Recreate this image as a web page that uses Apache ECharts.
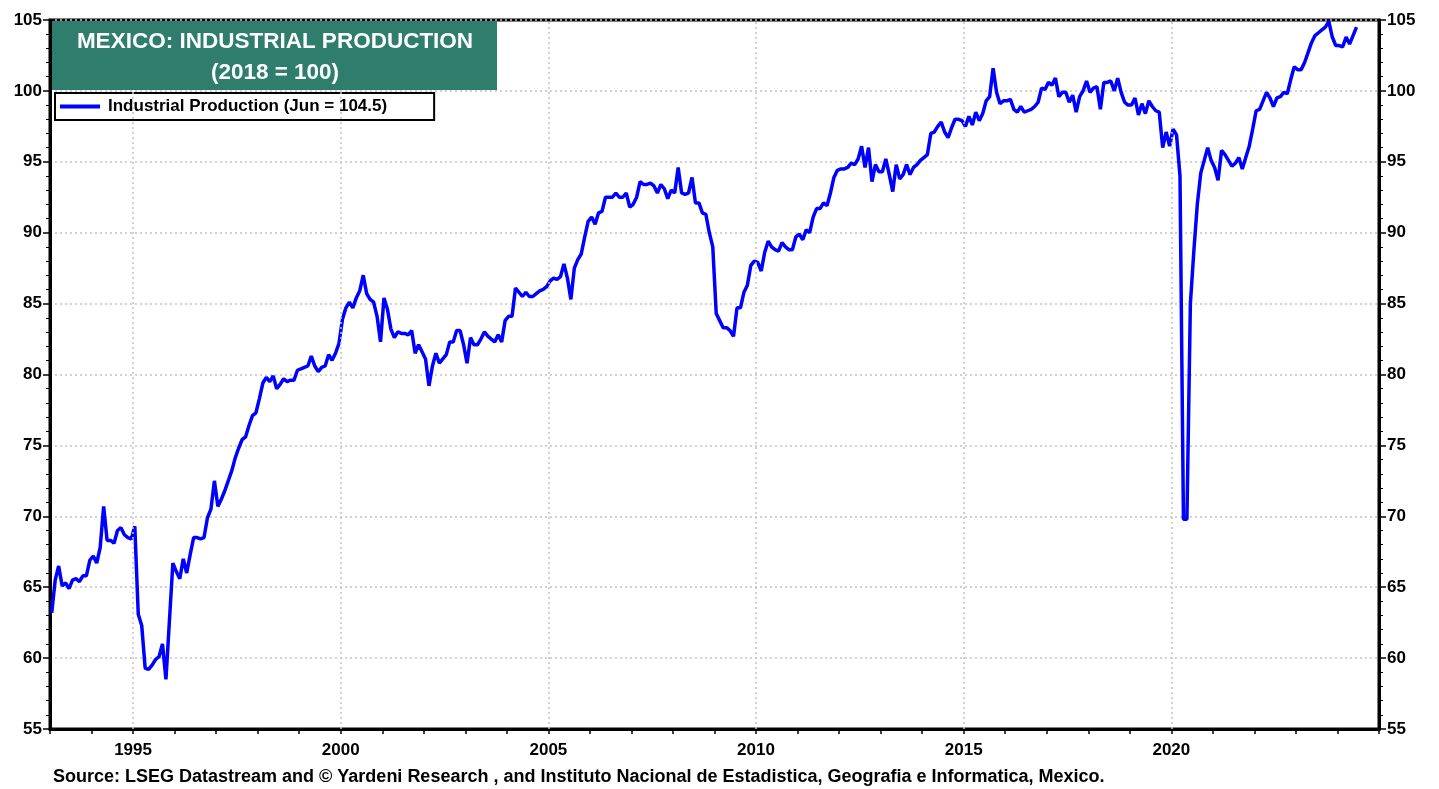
<!DOCTYPE html>
<html>
<head>
<meta charset="utf-8">
<title>Mexico: Industrial Production</title>
<script src="https://cdn.jsdelivr.net/npm/echarts@6/dist/echarts.min.js"></script>
<style>
  html, body { margin: 0; padding: 0; background: #fff; }
  #chart { width: 1439px; height: 789px; }
</style>
</head>
<body>
<div id="chart"></div>
<script>
// monthly index, 2018 = 100, starting Jan 1993
const startYear = 1993;
const ipValues = [
  63.2, 65.5, 66.5, 65.1, 65.3, 64.9, 65.5, 65.6, 65.4, 65.8, 65.8, 66.9,   // 1993
  67.2, 66.7, 67.8, 70.7, 68.3, 68.3, 68.1, 69.0, 69.2, 68.7, 68.5, 68.4,   // 1994
  69.3, 63.1, 62.3, 59.3, 59.2, 59.5, 59.9, 60.1, 61.0, 58.5, 62.6, 66.7,   // 1995
  66.1, 65.6, 67.0, 66.0, 67.3, 68.5, 68.5, 68.4, 68.5, 69.9, 70.5, 72.5,   // 1996
  70.7, 71.2, 71.8, 72.5, 73.2, 74.1, 74.8, 75.4, 75.6, 76.4, 77.1, 77.3,   // 1997
  78.3, 79.4, 79.8, 79.5, 79.9, 79.0, 79.3, 79.7, 79.5, 79.6, 79.6, 80.3,   // 1998
  80.4, 80.5, 80.6, 81.3, 80.6, 80.2, 80.5, 80.6, 81.4, 81.0, 81.5, 82.2,   // 1999
  83.9, 84.7, 85.1, 84.7, 85.4, 85.9, 87.0, 85.7, 85.3, 85.1, 84.1, 82.3,   // 2000
  85.4, 84.6, 83.2, 82.6, 83.0, 82.9, 82.9, 82.8, 83.1, 81.5, 82.1, 81.6,   // 2001
  81.1, 79.2, 80.6, 81.5, 80.8, 81.1, 81.4, 82.3, 82.3, 83.1, 83.1, 82.1,   // 2002
  80.8, 82.6, 82.1, 82.1, 82.5, 83.0, 82.7, 82.5, 82.3, 82.8, 82.3, 83.8,   // 2003
  84.1, 84.1, 86.1, 85.8, 85.5, 85.8, 85.5, 85.5, 85.7, 85.9, 86.0, 86.2,   // 2004
  86.6, 86.8, 86.7, 86.9, 87.8, 86.8, 85.3, 87.5, 88.1, 88.5, 89.7, 90.8,   // 2005
  91.1, 90.6, 91.4, 91.5, 92.5, 92.5, 92.5, 92.8, 92.5, 92.5, 92.8, 91.8,   // 2006
  92.0, 92.5, 93.6, 93.4, 93.4, 93.5, 93.3, 92.8, 93.4, 93.1, 92.4, 93.0,   // 2007
  92.8, 94.6, 92.8, 92.7, 92.8, 93.9, 92.1, 92.1, 91.4, 91.3, 90.0, 89.0,   // 2008
  84.3, 83.8, 83.3, 83.3, 83.1, 82.7, 84.7, 84.7, 85.8, 86.3, 87.7, 88.0,   // 2009
  87.9, 87.3, 88.6, 89.4, 89.0, 88.8, 88.7, 89.3, 89.0, 88.8, 88.8, 89.7,   // 2010
  89.9, 89.5, 90.2, 90.0, 91.1, 91.7, 91.7, 92.1, 91.9, 92.8, 93.9, 94.4,   // 2011
  94.5, 94.5, 94.6, 94.9, 94.8, 95.2, 96.1, 94.6, 96.0, 93.6, 94.8, 94.3,   // 2012
  94.3, 95.2, 94.1, 92.9, 94.8, 93.8, 94.1, 94.8, 94.1, 94.6, 94.8, 95.1,   // 2013
  95.3, 95.5, 97.0, 97.1, 97.5, 97.8, 97.1, 96.7, 97.4, 98.0, 98.0, 97.9,   // 2014
  97.5, 98.2, 97.6, 98.5, 97.9, 98.4, 99.3, 99.6, 101.6, 99.9, 99.1, 99.3,  // 2015
  99.3, 99.4, 98.7, 98.5, 98.9, 98.5, 98.6, 98.7, 98.9, 99.2, 100.2, 100.1, // 2016
  100.6, 100.4, 100.9, 99.6, 99.9, 99.9, 99.2, 99.7, 98.5, 99.6, 100.0, 100.7, // 2017
  99.9, 100.2, 100.3, 98.7, 100.6, 100.6, 100.7, 100.0, 100.9, 99.9, 99.2, 99.0, // 2018
  99.0, 99.5, 98.3, 99.1, 98.4, 99.3, 98.9, 98.6, 98.5, 96.0, 97.1, 96.1,   // 2019
  97.3, 96.9, 94.0, 69.8, 69.8, 85.0, 88.7, 92.0, 94.2, 95.1, 96.0, 95.1,   // 2020
  94.6, 93.7, 95.8, 95.5, 95.1, 94.7, 94.9, 95.3, 94.5, 95.3, 96.1, 97.3,   // 2021
  98.6, 98.7, 99.3, 99.9, 99.5, 98.9, 99.5, 99.6, 99.9, 99.8, 100.8, 101.7, // 2022
  101.5, 101.5, 102.0, 102.7, 103.4, 103.9, 104.1, 104.3, 104.5, 104.9, 103.8, 103.2, // 2023
  103.2, 103.1, 103.8, 103.3, 103.9, 104.5                                  // 2024
];
const gridYears = [1995, 2000, 2005, 2010, 2015, 2020];
const seriesName = 'Industrial Production (Jun = 104.5)';
const titleLines = ['MEXICO: INDUSTRIAL PRODUCTION', '(2018 = 100)'];
const sourceText = 'Source: LSEG Datastream and \u00a9 Yardeni Research , and Instituto Nacional de Estadistica, Geografia e Informatica, Mexico.';

// month i -> mid-month decimal year
const lineData = ipValues.map((v, i) => [startYear + (i + 0.5) / 12, v]);

const chart = echarts.init(document.getElementById('chart'));

const font = '"Liberation Sans", Arial, sans-serif';
const gridLine = { color: '#c4c4c4', width: 1.5, type: [2, 3] };

const yAxisBase = {
    type: 'value',
    min: 55,
    max: 105,
    interval: 5,
    axisLine: { show: true, lineStyle: { color: '#000', width: 3 } },
    axisTick: { show: true, length: 7, lineStyle: { color: '#000', width: 1.5 } },
    minorTick: { show: true, splitNumber: 5, length: 4, lineStyle: { color: '#000', width: 1 } },
    axisLabel: { color: '#000', fontSize: 17, fontWeight: 'bold', fontFamily: font, margin: 8 }
};

const option = {
    backgroundColor: '#fff',
    animation: false,
    grid: {
        left: 50, right: 60, top: 20, bottom: 60,
        show: true, borderColor: '#000', borderWidth: 3, backgroundColor: 'transparent'
    },
    legend: {
        data: [seriesName],
        left: 55,
        top: 93,
        orient: 'vertical',
        itemWidth: 40,
        itemHeight: 4,
        itemGap: 0,
        icon: 'rect',
        padding: [5, 47, 5, 5],
        backgroundColor: '#fff',
        borderColor: '#000',
        borderWidth: 2,
        borderRadius: 0,
        textStyle: { color: '#000', fontSize: 17, fontWeight: 'bold', fontFamily: font, padding: [0, 0, 0, 3] }
    },
    xAxis: {
        type: 'value',
        min: startYear,
        max: 2025,
        interval: 1,
        splitLine: { show: false },
        axisLine: { show: true, onZero: false, lineStyle: { color: '#000', width: 3 } },
        axisTick: { show: true, length: 5, lineStyle: { color: '#000', width: 1.5 } },
        axisLabel: {
            color: '#000', fontSize: 17, fontWeight: 'bold', fontFamily: font, margin: 13,
            formatter: v => (v % 5 === 0 && v < 2025 ? String(v) : '')
        }
    },
    yAxis: [
        Object.assign({}, yAxisBase, { position: 'left', splitLine: { show: true, lineStyle: gridLine } }),
        Object.assign({}, yAxisBase, { position: 'right', splitLine: { show: false } })
    ],
    series: [
        {
            // vertical dotted grid every five years
            name: 'grid',
            type: 'line',
            data: [],
            z: 1,
            silent: true,
            markLine: {
                silent: true,
                symbol: 'none',
                label: { show: false },
                lineStyle: gridLine,
                data: gridYears.map(y => ({ xAxis: y }))
            }
        },
        {
            name: seriesName,
            type: 'line',
            data: lineData,
            z: 3,
            showSymbol: false,
            symbol: 'none',
            lineStyle: { color: '#0000ff', width: 3.5 },
            itemStyle: { color: '#0000ff' }
        }
    ],
    graphic: [
        {
            type: 'rect',
            left: 52, top: 21,
            shape: { width: 445, height: 69 },
            style: { fill: '#2e7d6d' },
            z: 10
        },
        {
            type: 'text',
            x: 275, y: 42,
            z: 11,
            style: {
                text: titleLines[0],
                fill: '#fff', font: 'bold 22.5px ' + font,
                align: 'center', verticalAlign: 'middle'
            }
        },
        {
            type: 'text',
            x: 275, y: 73,
            z: 11,
            style: {
                text: titleLines[1],
                fill: '#fff', font: 'bold 22.5px ' + font,
                align: 'center', verticalAlign: 'middle'
            }
        },
        {
            type: 'text',
            x: 53, y: 777,
            style: { text: sourceText, fill: '#000', font: 'bold 18px ' + font, verticalAlign: 'middle' }
        }
    ]
};

chart.setOption(option);
</script>
</body>
</html>
